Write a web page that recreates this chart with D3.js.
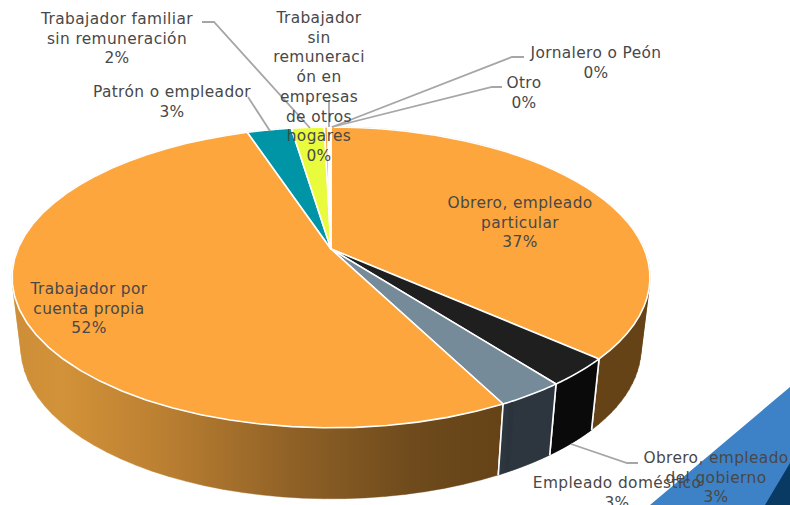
<!DOCTYPE html>
<html><head><meta charset="utf-8">
<style>html,body{margin:0;padding:0;background:#fff;overflow:hidden}svg{display:block}
text{font-family:"DejaVu Sans",sans-serif;font-size:15.4px;letter-spacing:.38px;fill:#484848;text-anchor:middle}</style>
<script src="https://cdn.jsdelivr.net/npm/d3@7/dist/d3.min.js"></script></head><body>
<script>
const categories=["Obrero, empleado particular","Obrero, empleado del gobierno","Empleado doméstico","Trabajador por cuenta propia","Patrón o empleador","Trabajador familiar sin remuneración","Trabajador sin remuneración en empresas de otros hogares","Jornalero o Peón","Otro"];
const values=[36.5,3.0,2.9,52.4,2.7,2.0,0.2,0.1,0.1];
const topColors=["#FCA63D","#1F1F1F","#758B99","#FCA63D","#0094A7","#E8FB3C","#FCA63D","#FCA63D","#FCA63D"];
const sideColors=["#654317","#0A0A0A","#2E363E","url(#side)","#005A66","#8C9825","#654317","#654317","#654317"];
const labelLines=[["Obrero, empleado","particular"],["Obrero, empleado","del gobierno"],["Empleado doméstico"],["Trabajador por","cuenta propia"],["Patrón o empleador"],["Trabajador familiar","sin remuneración"],["Trabajador","sin","remuneraci","ón en","empresas","de otros","hogares"],["Jornalero o Peón"],["Otro"]];
const labelPos=[[520,203],[716,458],[617,483],[89,289],[172,92],[117,19],[319,18],[596,53],[524,83]];
const leaders=[null,[[571,444],[627,463],[638,463]],null,null,[[248,97],[270,131]],[[202,22],[214,22],[310,128]],[[329,100],[329,127]],[[524,57],[512,57],[332,127]],[[502,87],[492,87],[332,127]]];

const W=790,H=505,cx=331,cy=249,A=313.2,B=145,k=0.189,drop=71,bottomScale=0.972;
const svg=d3.select("body").append("svg").attr("width",W).attr("height",H);
const defs=svg.append("defs");
const g=defs.append("linearGradient").attr("id","side").attr("gradientUnits","userSpaceOnUse").attr("x1",13).attr("x2",502).attr("y1",0).attr("y2",0);
[[0,"#CE8E38"],[0.1,"#D29238"],[0.3,"#BC8032"],[0.58,"#8E6026"],[0.82,"#6E4A1C"],[1,"#654317"]].forEach(s=>g.append("stop").attr("offset",s[0]).attr("stop-color",s[1]));
svg.append("polygon").attr("points","790,387 790,505 650,505").attr("fill","#3D82C6");
svg.append("polygon").attr("points","790,463 790,505 765,505").attr("fill","#083A64");

const pie=d3.pie().sort(null).value(d=>d);
const arcs=pie(values);
const upper=a=>{const u=Math.sin(a),v=-Math.cos(a),w=1-k*v;return [cx+A*u/w,cy+B*v/w];};
const lower=a=>{const p=upper(a);return [cx+(p[0]-cx)*bottomScale,p[1]+drop];};
const line=d3.line();
const samples=(a0,a1,n)=>d3.range(0,n+1).map(i=>a0+(a1-a0)*i/n);
const rimG=svg.append("g");
[...arcs.keys()].sort((p,q)=>Math.cos((arcs[q].startAngle+arcs[q].endAngle)/2)-Math.cos((arcs[p].startAngle+arcs[p].endAngle)/2)).forEach(i=>{
  const d=arcs[i],s=samples(d.startAngle,d.endAngle,60);
  // the rim as a ruled surface: each strip is hulled so that strips always wind the same way
  const strips=d3.pairs(s).map(([a,b])=>line(d3.polygonHull([upper(a),upper(b),lower(b),lower(a)]))+"Z").join("");
  rimG.append("path").attr("d",strips).attr("fill",sideColors[i]).attr("stroke",sideColors[i]).attr("stroke-width",0.4);
  [d.startAngle,d.endAngle].forEach(a=>rimG.append("path").attr("d",line([upper(a),lower(a)])).attr("stroke","#fff").attr("stroke-width",1.6).attr("fill","none"));
});
const topG=svg.append("g");
arcs.forEach((d,i)=>{
  const pts=[[cx,cy],...samples(d.startAngle,d.endAngle,40).map(upper)];
  topG.append("path").attr("d",line(pts)+"Z").attr("fill",topColors[i]).attr("stroke","#fff").attr("stroke-width",1.6).attr("stroke-linejoin","round");
});
leaders.forEach(l=>{if(l)svg.append("path").attr("d",line(l)).attr("fill","none").attr("stroke","#A6A6A6").attr("stroke-width",1.8);});
const fmt=d3.format(".0f"),lh=19.7;
labelLines.forEach((ls,i)=>{
  const t=svg.append("text").attr("x",labelPos[i][0]).attr("y",labelPos[i][1]+5);
  [...ls,fmt(values[i])+"%"].forEach((s,j)=>t.append("tspan").attr("x",labelPos[i][0]).attr("dy",j?lh:0).text(s));
});
</script></body></html>
